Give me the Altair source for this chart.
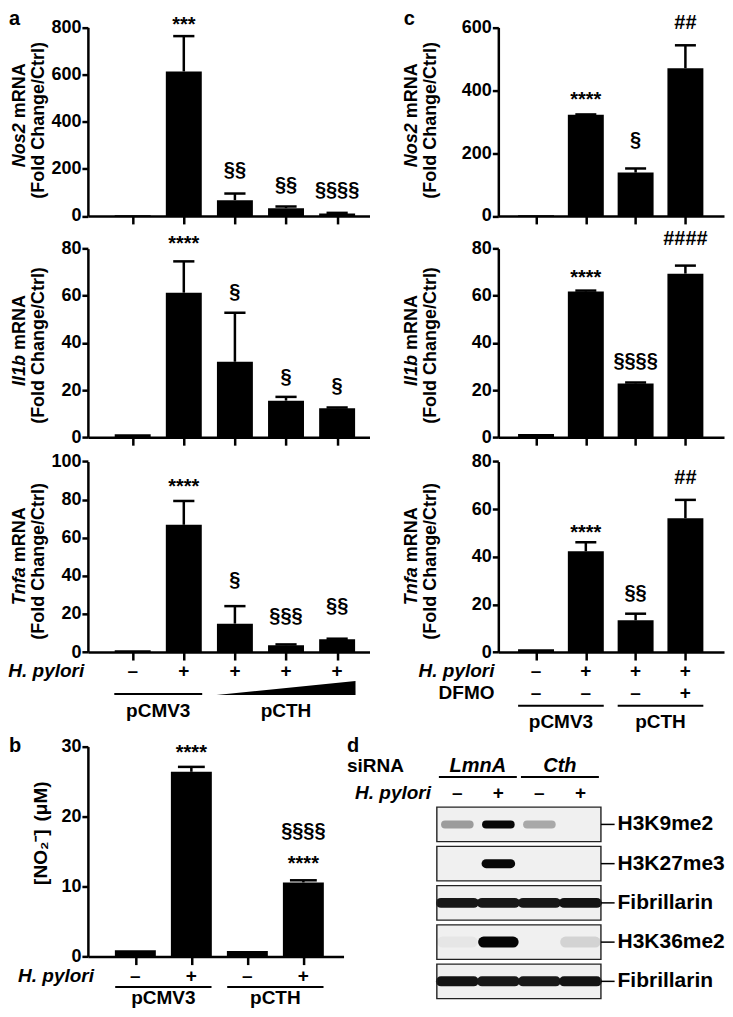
import altair as alt
import pandas as pd

# ---------------- values ----------------
# panel a (five bars per chart)
a_hpylori = ["–", "+", "+", "+", "+"]
a_groups = ["pCMV3", "pCTH"]
a_group_bars = [[0, 1], [2, 3, 4]]

a_nos2 = [3, 613, 67, 33, 10]
a_nos2_err = [0, 150, 28, 7, 3]
a_nos2_sig = ["", "***", "§§", "§§", "§§§§"]
a_nos2_sig_y = [0, 837, 190, 128, 104]

a_il1b = [1.2, 61.3, 32.0, 15.5, 12.3]
a_il1b_err = [0, 13.3, 20.8, 1.6, 0.3]
a_il1b_sig = ["", "****", "§", "§", "§"]
a_il1b_sig_y = [0, 84.6, 61, 25.3, 21.1]

a_tnfa = [1.0, 66.8, 14.9, 3.6, 6.7]
a_tnfa_err = [0, 12.5, 9.2, 0.4, 0.3]
a_tnfa_sig = ["", "****", "§", "§§§", "§§"]
a_tnfa_sig_y = [0, 89.7, 37.4, 18.5, 23.6]

# panel c (four bars per chart)
c_hpylori = ["–", "+", "+", "+"]
c_dfmo = ["–", "–", "–", "+"]
c_groups = ["pCMV3", "pCTH"]
c_group_bars = [[0, 1], [2, 3]]

c_nos2 = [2, 322, 138, 470]
c_nos2_err = [0, 1, 13, 73]
c_nos2_sig = ["", "****", "§", "##"]
c_nos2_sig_y = [0, 388, 237, 616]

c_il1b = [1.3, 61.8, 22.8, 69.4]
c_il1b_err = [0, 0.4, 0.4, 3.4]
c_il1b_sig = ["", "****", "§§§§", "####"]
c_il1b_sig_y = [0, 70, 32, 84.6]

c_tnfa = [1.2, 42.3, 13.3, 56.2]
c_tnfa_err = [0, 3.8, 2.8, 7.7]
c_tnfa_sig = ["", "****", "§§", "##"]
c_tnfa_sig_y = [0, 52.5, 24.5, 73.7]

# panel b
b_hpylori = ["–", "+", "–", "+"]
b_groups = ["pCMV3", "pCTH"]
b_group_bars = [[0, 1], [2, 3]]
b_no2 = [0.9, 26.4, 0.8, 10.6]
b_no2_err = [0, 0.7, 0, 0.3]
b_no2_sig = ["", "****", "", "****"]
b_no2_sig_y = [0, 29.9, 0, 14.1]
b_no2_sig2 = ["", "", "", "§§§§"]
b_no2_sig2_y = [0, 0, 0, 17.8]

# panel d (western blot)
d_sirna = ["LmnA", "Cth"]
d_sirna_lanes = [[0, 1], [2, 3]]
d_hpylori = ["–", "+", "–", "+"]
d_blots = ["H3K9me2", "H3K27me3", "Fibrillarin", "H3K36me2", "Fibrillarin"]
d_intensity = [
    [0.35, 0.97, 0.30, 0.00],
    [0.00, 0.97, 0.00, 0.00],
    [0.90, 0.90, 0.90, 0.92],
    [0.04, 0.98, 0.00, 0.12],
    [0.92, 0.90, 0.90, 0.92],
]
# band styling (thickness in px, half length in lane units)
d_band_w = [8, 9, 10, 11, 10]
d_band_half = [0.30, 0.30, 0.40, 0.36, 0.40]

# ---------------- layout ----------------
FONT = "Liberation Sans"
LW = 2.5
KX = (725 - 10) / (733 - 2)
KY = (1003 - 14) / (1013 - 2)


def PX(x):
    return 10 + (x - 2) * KX


def PY(y):
    return 14 + (y - 2) * KY


L1 = round(PX(82))
RIGHT1 = round(PX(370))
W1 = RIGHT1 - L1
L2 = round(PX(502))
W2 = 725 - L2
COLSP = L2 - RIGHT1
T1 = round(PY(15))
ROWS = [
    (T1, PY(208), PY(15)),
    (PY(208), PY(434), PY(241)),
    (PY(434), PY(653), PY(458)),
    (PY(653), PY(964), PY(749)),
]

CW = {" ": .278, "N": .722, "o": .611, "s": .556, "2": .556, "m": .889, "R": .722,
      "A": .722, "I": .278, "l": .278, "1": .556, "b": .611, "T": .611, "n": .611,
      "f": .333, "a": .556, "[": .333, "]": .333, "O": .778, "₂": .35, "⁻": .35,
      "(": .333, ")": .333, "μ": .576, "M": .833}


def tw(s, size):
    return sum(CW.get(ch, .6) for ch in s) * size


def txt(s, x, y, size=19, italic=False, align="center", baseline="alphabetic", angle=0):
    kw = dict(font=FONT, fontSize=size, fontWeight="bold", align=align,
              baseline=baseline, color="black")
    if italic:
        kw["fontStyle"] = "italic"
    if angle:
        kw["angle"] = angle
    return alt.Chart(pd.DataFrame({"t": [s]})).mark_text(**kw).encode(
        x=alt.value(x), y=alt.value(y), text="t:N")


def bar_panel(means, errs, sig_sets, centers_ref, left, width, row, ydom, yticks,
              bar_w, cap_half, title_lines, title_xref, title_cyref, title_size=18,
              title_gap=5, letter=None, signs=None, groups=None, wedge_group=None,
              anchor=False):
    g_top, g_bot, p_top = row
    height = g_bot - g_top
    ytop = p_top - g_top
    n = len(means)
    step = (PX(centers_ref[-1]) - PX(centers_ref[0])) / (n - 1)
    c0 = PX(centers_ref[0]) - left
    xs = alt.Scale(domain=[-c0 / step, (width - c0) / step], nice=False, zero=False)
    ys = alt.Scale(domain=ydom, range=[height, ytop], nice=False, zero=False)
    df = pd.DataFrame({"i": list(range(n)), "m": means, "e": errs})
    df["top"] = df["m"] + df["e"]
    df["cl"] = df["i"] - cap_half / step
    df["cr"] = df["i"] + cap_half / step
    xax = alt.Axis(values=list(range(n)), labels=False, title=None, grid=False,
                   tickSize=8, tickWidth=LW, tickColor="black",
                   domainColor="black", domainWidth=LW)
    yax = alt.Axis(values=yticks, title=None, grid=False, tickSize=6, tickWidth=LW,
                   tickColor="black", domainColor="black", domainWidth=LW,
                   labelFont=FONT, labelFontSize=18, labelFontWeight="bold",
                   labelColor="black", labelPadding=1)
    base = alt.Chart(df)
    layers = [base.mark_bar(size=bar_w, color="black", orient="vertical").encode(
        x=alt.X("i:Q", scale=xs, axis=xax), y=alt.Y("m:Q", scale=ys, axis=yax))]
    ebar = base.transform_filter("datum.e > 0")
    layers.append(ebar.mark_rule(color="black", strokeWidth=LW).encode(
        x=alt.X("i:Q", title=None), y=alt.Y("m:Q", title=None), y2="top:Q"))
    layers.append(ebar.mark_rule(color="black", strokeWidth=LW).encode(
        x=alt.X("cl:Q", title=None), x2="cr:Q", y=alt.Y("top:Q", title=None)))

    recs = []
    for texts, yvals in sig_sets:
        for i, (t, yv) in enumerate(zip(texts, yvals)):
            if t:
                recs.append({"i": i, "t": t, "y": yv, "k": t[0]})
    sdf = pd.DataFrame(recs)
    for k, dy in (("*", 6), ("§", -1), ("#", 1)):
        sub = sdf[sdf["k"] == k]
        if len(sub):
            layers.append(alt.Chart(sub).mark_text(
                font=FONT, fontSize=20, fontWeight="bold", baseline="middle",
                dy=dy, color="black").encode(
                x=alt.X("i:Q", title=None), y=alt.Y("y:Q", title=None), text="t:N"))

    cy = PY(title_cyref) - g_top
    for segs, xref in zip(title_lines, title_xref):
        x = PX(xref) - left + 1
        total = sum(tw(s, title_size) for s, _ in segs) + title_gap * (len(segs) - 1)
        pos = cy + total / 2
        for s, it in segs:
            layers.append(txt(s, x, pos, size=title_size, italic=it, align="left",
                              baseline="middle", angle=270))
            pos -= tw(s, title_size) + title_gap

    if letter:
        layers.append(txt(letter[0], PX(letter[1]) - left, PY(letter[2]) - g_top,
                          size=20, align="left"))

    for label, vals, yb, lr in (signs or []):
        y = PY(yb) - g_top
        sd = pd.DataFrame({"i": list(range(len(vals))), "t": vals})
        layers.append(alt.Chart(sd).mark_text(
            font=FONT, fontSize=19, fontWeight="bold", baseline="alphabetic",
            color="black").encode(x=alt.X("i:Q", title=None), y=alt.value(y), text="t:N"))
        layers.append(txt(label, PX(lr) - left, y, size=19,
                          italic=(label != "DFMO"), align="right"))

    wedge = None
    if groups:
        names, bars, ly, ty = groups
        gdf = pd.DataFrame({"g": names,
                            "x0": [min(bb) - 0.36 for bb in bars],
                            "x1": [max(bb) + 0.36 for bb in bars]})
        gdf["xc"] = (gdf["x0"] + gdf["x1"]) / 2
        line_df = gdf if wedge_group is None else gdf[gdf["g"] != wedge_group]
        layers.append(alt.Chart(line_df).mark_rule(color="black", strokeWidth=2).encode(
            x=alt.X("x0:Q", title=None), x2="x1:Q", y=alt.value(PY(ly) - g_top)))
        layers.append(alt.Chart(gdf).mark_text(
            font=FONT, fontSize=19, fontWeight="bold", baseline="alphabetic",
            color="black").encode(x=alt.X("xc:Q", title=None),
                                  y=alt.value(PY(ty) - g_top), text="g:N"))
        if wedge_group is not None:
            k = names.index(wedge_group)
            wdf = pd.DataFrame({"x": [gdf["x0"][k], gdf["x1"][k]], "h": [0, 1]})
            by = PY(ly) - g_top + 1
            wedge = alt.Chart(wdf).mark_area(color="black", orient="vertical").encode(
                x=alt.X("x:Q", title=None),
                y=alt.Y("h:Q", scale=alt.Scale(domain=[0, 1], range=[by, by - 14]),
                        axis=None))

    if anchor:
        layers.append(alt.Chart(pd.DataFrame({"v": [0]})).mark_rule(
            opacity=0, strokeWidth=1, color="white").encode(
            x=alt.value(8 - left), x2=alt.value(8 - left + 1),
            y=alt.value(8 - g_top), y2=alt.value(8 - g_top)))

    if wedge is not None:
        ch = alt.layer(alt.layer(*layers), wedge).resolve_scale(y="independent")
    else:
        ch = alt.layer(*layers)
    return ch.properties(width=width, height=height)


def gray(o):
    v = int(round(240 * (1 - o)))
    return "#%02x%02x%02x" % (v, v, v)


def blot_panel(left, width, row):
    g_top, g_bot, _ = row
    height = g_bot - g_top
    xs = alt.Scale(domain=[-0.5, 3.5], range=[PX(439) - left, PX(607) - left],
                   nice=False, zero=False)
    rid = [str(k) for k in range(len(d_blots))]
    ys = alt.Scale(domain=rid, range=[PY(811) - g_top, PY(1007) - g_top],
                   paddingInner=0.12, paddingOuter=0)
    box = pd.DataFrame({"r": rid, "lab": d_blots, "x0": -0.5, "x1": 3.5})
    layers = [alt.Chart(box).mark_rect(fill="#f0f0f0", strokeWidth=0).encode(
        x=alt.X("x0:Q", scale=xs, axis=None), x2="x1:Q",
        y=alt.Y("r:O", scale=ys, axis=None))]
    recs = []
    for k, (ints, w, hw) in enumerate(zip(d_intensity, d_band_w, d_band_half)):
        for lane, o in enumerate(ints):
            if o > 0:
                recs.append({"r": str(k), "b0": lane - hw, "b1": lane + hw,
                             "c": gray(o), "w": w})
    layers.append(alt.Chart(pd.DataFrame(recs)).mark_rule(strokeCap="round").encode(
        x="b0:Q", x2="b1:Q", y="r:O",
        color=alt.Color("c:N", scale=None),
        strokeWidth=alt.StrokeWidth("w:Q", scale=None)))
    layers.append(alt.Chart(box).mark_rect(fillOpacity=0, stroke="#222222", strokeWidth=1.4).encode(
        x="x0:Q", x2="x1:Q", y="r:O"))
    layers.append(alt.Chart(box).mark_rule(color="black", strokeWidth=1.5).encode(
        x=alt.value(PX(607) - left), x2=alt.value(PX(621) - left), y="r:O"))
    layers.append(alt.Chart(box).mark_text(
        font=FONT, fontSize=21, fontWeight="bold", align="left", baseline="middle",
        color="black").encode(x=alt.value(PX(624) - left), y="r:O", text="lab:N"))

    hy1 = PY(775) - g_top
    hy2 = PY(803) - g_top
    sd = pd.DataFrame({"g": d_sirna,
                       "xc": [sum(l) / len(l) for l in d_sirna_lanes],
                       "x0": [min(l) - 0.45 for l in d_sirna_lanes],
                       "x1": [max(l) + 0.45 for l in d_sirna_lanes]})
    layers.append(alt.Chart(sd).mark_text(
        font=FONT, fontSize=20, fontWeight="bold", fontStyle="italic",
        baseline="alphabetic", color="black").encode(x="xc:Q", y=alt.value(hy1), text="g:N"))
    layers.append(alt.Chart(sd).mark_rule(color="black", strokeWidth=2).encode(
        x="x0:Q", x2="x1:Q", y=alt.value(PY(779) - g_top + 1)))
    hd = pd.DataFrame({"lane": list(range(len(d_hpylori))), "t": d_hpylori})
    layers.append(alt.Chart(hd).mark_text(
        font=FONT, fontSize=19, fontWeight="bold", baseline="alphabetic",
        color="black").encode(x="lane:Q", y=alt.value(hy2), text="t:N"))
    layers.append(txt("siRNA", PX(347) - left, hy1, align="left"))
    layers.append(txt("H. pylori", PX(433) - left, hy2, italic=True, align="right"))
    layers.append(txt("d", PX(347) - left, PY(755) - g_top, size=20, align="left"))
    return alt.layer(*layers).properties(width=width, height=height)


A_CENTERS = [124, 178, 232, 287, 341]
C_CENTERS = [537, 590, 643, 697]
B_CENTERS = [127, 187, 245, 306]
A_TX = [11, 31]
C_TX = [413, 432.5]
L2ND = [("(Fold Change/Ctrl)", False)]

a1 = bar_panel(a_nos2, a_nos2_err, [(a_nos2_sig, a_nos2_sig_y)], A_CENTERS, L1, W1, ROWS[0],
               [0, 800], [0, 200, 400, 600, 800], 36, 11,
               [[("Nos2", True), ("mRNA", False)], L2ND], A_TX, 105,
               letter=("a", 1, 12.5), anchor=True)
a2 = bar_panel(a_il1b, a_il1b_err, [(a_il1b_sig, a_il1b_sig_y)], A_CENTERS, L1, W1, ROWS[1],
               [0, 80], [0, 20, 40, 60, 80], 36, 11,
               [[("Il1b", True), ("mRNA", False)], L2ND], A_TX, 335)
a3 = bar_panel(a_tnfa, a_tnfa_err, [(a_tnfa_sig, a_tnfa_sig_y)], A_CENTERS, L1, W1, ROWS[2],
               [0, 100], [0, 20, 40, 60, 80, 100], 36, 11,
               [[("Tnfa", True), ("mRNA", False)], L2ND], A_TX, 555,
               signs=[("H. pylori", a_hpylori, 679, 78)],
               groups=(a_groups, a_group_bars, 696, 719), wedge_group="pCTH")
c1 = bar_panel(c_nos2, c_nos2_err, [(c_nos2_sig, c_nos2_sig_y)], C_CENTERS, L2, W2, ROWS[0],
               [0, 600], [0, 200, 400, 600], 36, 11,
               [[("Nos2", True), ("mRNA", False)], L2ND], C_TX, 105,
               letter=("c", 405, 12.5))
c2 = bar_panel(c_il1b, c_il1b_err, [(c_il1b_sig, c_il1b_sig_y)], C_CENTERS, L2, W2, ROWS[1],
               [0, 80], [0, 20, 40, 60, 80], 36, 11,
               [[("Il1b", True), ("mRNA", False)], L2ND], C_TX, 335)
c3 = bar_panel(c_tnfa, c_tnfa_err, [(c_tnfa_sig, c_tnfa_sig_y)], C_CENTERS, L2, W2, ROWS[2],
               [0, 80], [0, 20, 40, 60, 80], 36, 11,
               [[("Tnfa", True), ("mRNA", False)], L2ND], C_TX, 555,
               signs=[("H. pylori", c_hpylori, 679, 498), ("DFMO", c_dfmo, 701, 498)],
               groups=(c_groups, c_group_bars, 708, 731))
b = bar_panel(b_no2, b_no2_err, [(b_no2_sig, b_no2_sig_y), (b_no2_sig2, b_no2_sig2_y)],
              B_CENTERS, L1, round(PX(343)) - L1, ROWS[3],
              [0, 30], [0, 10, 20, 30], 41, 14,
              [[("[NO₂⁻]", False), ("(μM)", False)]], [33], 838, title_size=19,
              title_gap=9, letter=("b", 1, 755),
              signs=[("H. pylori", b_hpylori, 990, 88)],
              groups=(b_groups, b_group_bars, 995, 1013))
d = blot_panel(L2, W2, ROWS[3])

chart = alt.concat(
    a1, c1, a2, c2, a3, c3, b, d,
    columns=2,
    spacing={"row": 0, "column": COLSP},
    bounds="flush",
    align="each",
    padding={"left": 0, "top": 0, "right": 0, "bottom": 0},
).configure(font=FONT).configure_view(
    stroke="transparent", strokeOpacity=0, strokeWidth=0
).configure_axis(grid=False)

chart.save("out.html", embed_options={"renderer": "svg", "actions": False})
